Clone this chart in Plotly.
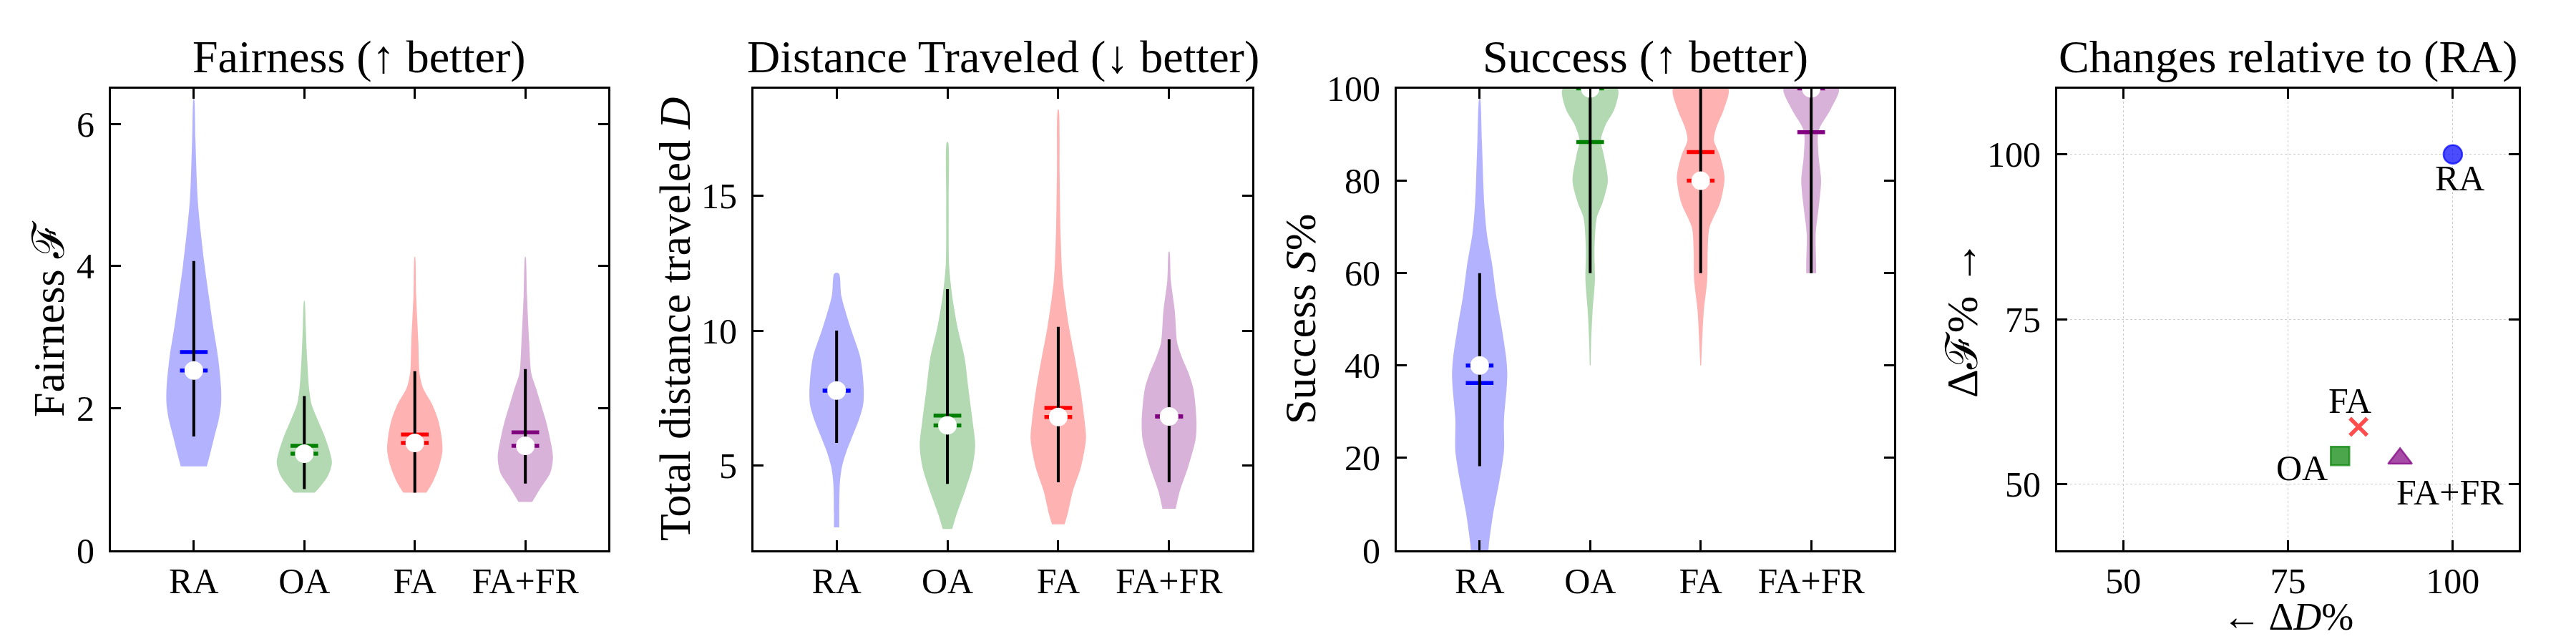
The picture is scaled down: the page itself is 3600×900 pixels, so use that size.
import plotly.graph_objects as go

# ---------------- data ----------------
METHODS = ["RA", "OA", "FA", "FA+FR"]
POSITIONS = [1, 2, 3, 4]
LINE_COLORS = ["blue", "green", "red", "purple"]
FILL_COLORS = ["rgba(0,0,255,0.3)", "rgba(0,128,0,0.3)", "rgba(255,0,0,0.3)", "rgba(128,0,128,0.3)"]

# Fairness violins: value levels and half-widths (category units)
FAIR_RA_Y = [1.18, 1.40, 1.62, 1.84, 2.06, 2.28, 2.71, 3.15, 3.59, 4.02, 4.9, 5.77, 6.36]
FAIR_RA_W = [0.118, 0.155, 0.19, 0.226, 0.247, 0.247, 0.22, 0.175, 0.135, 0.097, 0.037, 0.015, 0.002]
FAIR_OA_Y = [0.81, 0.92, 1.05, 1.23, 1.40, 1.62, 1.84, 2.06, 2.28, 2.71, 3.15, 3.51]
FAIR_OA_W = [0.095, 0.156, 0.215, 0.25, 0.228, 0.18, 0.12, 0.065, 0.043, 0.025, 0.013, 0.002]
FAIR_FA_Y = [0.81, 0.97, 1.18, 1.40, 1.62, 1.84, 2.06, 2.28, 2.49, 2.93, 3.59, 4.13]
FAIR_FA_W = [0.105, 0.166, 0.22, 0.25, 0.24, 0.21, 0.155, 0.075, 0.043, 0.032, 0.012, 0.002]
FAIR_FAFR_Y = [0.68, 0.88, 1.09, 1.31, 1.62, 1.84, 2.06, 2.28, 2.49, 2.93, 3.59, 4.13]
FAIR_FAFR_W = [0.062, 0.14, 0.226, 0.25, 0.217, 0.183, 0.14, 0.097, 0.054, 0.035, 0.015, 0.002]
FAIR_MEAN = [2.79, 1.47, 1.63, 1.66]
FAIR_MEDIAN = [2.53, 1.36, 1.51, 1.47]
FAIR_LO = [1.60, 0.86, 0.81, 0.94]
FAIR_HI = [4.07, 2.17, 2.52, 2.55]

# Distance violins
DIST_RA_Y = [2.71, 3.23, 4.38, 4.98, 5.53, 6.11, 6.68, 7.26, 7.83, 8.99, 10.14, 11.29, 12.12]
DIST_RA_W = [0.024, 0.024, 0.03, 0.05, 0.09, 0.145, 0.2, 0.24, 0.245, 0.215, 0.123, 0.043, 0.02]
DIST_OA_Y = [2.65, 3.23, 4.15, 4.95, 5.76, 6.68, 7.83, 8.99, 10.14, 11.29, 12.44, 14.75, 16.99]
DIST_OA_W = [0.043, 0.086, 0.166, 0.226, 0.25, 0.226, 0.19, 0.155, 0.09, 0.043, 0.015, 0.011, 0.005]
DIST_FA_Y = [2.82, 3.23, 4.03, 4.95, 5.99, 6.68, 7.83, 8.99, 10.14, 11.87, 13.59, 15.9, 18.2]
DIST_FA_W = [0.057, 0.086, 0.13, 0.205, 0.25, 0.237, 0.2, 0.15, 0.097, 0.04, 0.021, 0.012, 0.003]
DIST_FAFR_Y = [3.4, 4.03, 4.95, 5.99, 6.68, 7.83, 8.41, 8.99, 9.56, 10.71, 11.87, 12.93]
DIST_FAFR_W = [0.06, 0.095, 0.172, 0.24, 0.247, 0.22, 0.177, 0.118, 0.073, 0.052, 0.016, 0.003]
DIST_MEAN = [7.78, 6.85, 7.14, 6.82]
DIST_MEDIAN = [7.78, 6.49, 6.80, 6.82]
DIST_LO = [5.84, 4.32, 4.38, 4.38]
DIST_HI = [10.0, 11.54, 10.14, 9.68]

# Success violins
SUCC_RA_Y = [0, 1.35, 8.07, 14.8, 21.5, 28.2, 35.0, 38.3, 41.7, 48.4, 55.1, 61.9, 68.6, 75.3, 88.8, 97.8]
SUCC_RA_W = [0.08, 0.084, 0.123, 0.177, 0.22, 0.22, 0.244, 0.25, 0.24, 0.198, 0.15, 0.113, 0.065, 0.041, 0.02, 0.003]
SUCC_OA_Y = [40, 45.1, 51.8, 58.5, 65.2, 72.0, 75.3, 80, 85.4, 88.8, 92.1, 95.5, 100]
SUCC_OA_W = [0.004, 0.009, 0.022, 0.043, 0.039, 0.06, 0.113, 0.16, 0.125, 0.097, 0.14, 0.22, 0.247]
SUCC_FA_Y = [40, 45.1, 51.8, 58.5, 65.2, 69.9, 75.3, 80.7, 85.4, 88.8, 91.5, 95.5, 100]
SUCC_FA_W = [0.004, 0.013, 0.028, 0.059, 0.064, 0.08, 0.177, 0.216, 0.175, 0.12, 0.142, 0.21, 0.248]
SUCC_FAFR_Y = [60, 61.9, 68.6, 74.0, 80, 85.4, 90.8, 95.5, 100]
SUCC_FAFR_W = [0.045, 0.045, 0.041, 0.067, 0.09, 0.067, 0.067, 0.177, 0.248]
SUCC_MEAN = [36.2, 88.4, 86.2, 90.5]
SUCC_MEDIAN = [40, 100, 80, 100]
SUCC_LO = [18.2, 60, 60, 60]
SUCC_HI = [60, 100, 100, 100]

# Relative changes (scatter)
DELTA_D = [100, 82.9, 85.7, 92.0]
DELTA_F = [100, 54.3, 58.7, 53.9]
SCATTER_SYMBOLS = ["circle", "square", "x-thin", "triangle-up"]
SCATTER_RGBA = ["rgba(0,0,255,0.7)", "rgba(0,128,0,0.7)", "rgba(255,0,0,0.7)", "rgba(128,0,128,0.7)"]
LABEL_SHIFT_X = [10, -53, -12, 70]
LABEL_SHIFT_Y = [-33, -17, 37, -47]

# ---------------- layout helpers ----------------
W, H = 3600, 900
OFF = 8  # the page body margin shifts the figure by this many px
FONT = "Liberation Serif"
TITLE_SIZE = 64
LABEL_SIZE = 62
XLABEL_SIZE = 54
TICK_SIZE = 50

PX = [(155, 850), (1053, 1750), (1952, 2647), (2875, 3520)]
PY = (123.5, 769)


def fx(px):
    return (px - OFF) / W


def fy(py):
    return 1 - (py - OFF) / H


def xd(p):
    return [fx(p[0]), fx(p[1])]


ydom = [fy(PY[1]), fy(PY[0])]

fig = go.Figure()

panels = [
    ("x", "y", [(FAIR_RA_Y, FAIR_RA_W), (FAIR_OA_Y, FAIR_OA_W), (FAIR_FA_Y, FAIR_FA_W), (FAIR_FAFR_Y, FAIR_FAFR_W)],
     FAIR_MEAN, FAIR_MEDIAN, FAIR_LO, FAIR_HI),
    ("x2", "y2", [(DIST_RA_Y, DIST_RA_W), (DIST_OA_Y, DIST_OA_W), (DIST_FA_Y, DIST_FA_W), (DIST_FAFR_Y, DIST_FAFR_W)],
     DIST_MEAN, DIST_MEDIAN, DIST_LO, DIST_HI),
    ("x3", "y3", [(SUCC_RA_Y, SUCC_RA_W), (SUCC_OA_Y, SUCC_OA_W), (SUCC_FA_Y, SUCC_FA_W), (SUCC_FAFR_Y, SUCC_FAFR_W)],
     SUCC_MEAN, SUCC_MEDIAN, SUCC_LO, SUCC_HI),
]

HALF_LINE = 0.125
for xa, ya, profiles, means, medians, los, his in panels:
    for i, (ys, ws) in enumerate(profiles):
        c = POSITIONS[i]
        px = [c + w for w in ws] + [c - w for w in reversed(ws)]
        py = list(ys) + list(reversed(ys))
        fig.add_trace(go.Scatter(x=px, y=py, xaxis=xa, yaxis=ya, mode="lines", fill="toself",
                                 fillcolor=FILL_COLORS[i], line=dict(width=0, color="rgba(0,0,0,0)", shape="spline", smoothing=0.8),
                                 hoverinfo="skip", showlegend=False))
    for i in range(4):
        c = POSITIONS[i]
        for val in (means[i], medians[i]):
            fig.add_trace(go.Scatter(x=[c - HALF_LINE, c + HALF_LINE], y=[val, val], xaxis=xa, yaxis=ya,
                                     mode="lines", line=dict(color=LINE_COLORS[i], width=5.5),
                                     hoverinfo="skip", showlegend=False, cliponaxis=False))
        fig.add_trace(go.Scatter(x=[c, c], y=[los[i], his[i]], xaxis=xa, yaxis=ya, mode="lines",
                                 line=dict(color="black", width=4), hoverinfo="skip", showlegend=False))
    fig.add_trace(go.Scatter(x=POSITIONS, y=medians, xaxis=xa, yaxis=ya, mode="markers",
                             marker=dict(color="white", size=26, line=dict(width=0)),
                             hoverinfo="skip", showlegend=False))

# scatter panel
for i in range(4):
    sym = SCATTER_SYMBOLS[i]
    if sym == "x-thin":
        mk = dict(symbol=sym, size=24, color=SCATTER_RGBA[i], line=dict(color=SCATTER_RGBA[i], width=5.5))
    else:
        size = 26 if sym in ("circle", "square") else 29
        mk = dict(symbol=sym, size=size, color=SCATTER_RGBA[i], line=dict(color=SCATTER_RGBA[i], width=2.5))
    fig.add_trace(go.Scatter(x=[DELTA_D[i]], y=[DELTA_F[i]], xaxis="x4", yaxis="y4", mode="markers",
                             marker=mk, hoverinfo="skip", showlegend=False))
    fig.add_annotation(x=DELTA_D[i], y=DELTA_F[i], xref="x4", yref="y4", text=METHODS[i], showarrow=False,
                       xshift=LABEL_SHIFT_X[i], yshift=LABEL_SHIFT_Y[i],
                       font=dict(family=FONT, size=TICK_SIZE, color="black"))

axis_common = dict(showline=True, linecolor="black", linewidth=3, mirror="ticks", ticks="inside",
                   ticklen=14, tickwidth=3, tickcolor="black", showgrid=False, zeroline=False,
                   automargin=False,
                   tickfont=dict(family=FONT, size=TICK_SIZE, color="black"))

cat_x = dict(axis_common, range=[0.25, 4.75], tickvals=POSITIONS, ticktext=METHODS, ticklabelstandoff=-3)
YSTAND = 10

fig.update_layout(
    template="none",
    width=W, height=H, margin=dict(l=0, r=0, t=0, b=0, pad=0), autosize=False,
    plot_bgcolor="white", paper_bgcolor="white",
    xaxis=dict(cat_x, domain=xd(PX[0]), anchor="y"),
    yaxis=dict(axis_common, domain=ydom, anchor="x", range=[0, 6.5], tickvals=[0, 2, 4, 6], ticklabelstandoff=YSTAND),
    xaxis2=dict(cat_x, domain=xd(PX[1]), anchor="y2"),
    yaxis2=dict(axis_common, domain=ydom, anchor="x2", range=[1.86, 18.98], tickvals=[5, 10, 15], ticklabelstandoff=YSTAND),
    xaxis3=dict(cat_x, domain=xd(PX[2]), anchor="y3"),
    yaxis3=dict(axis_common, domain=ydom, anchor="x3", range=[0, 100], tickvals=[0, 20, 40, 60, 80, 100], ticklabelstandoff=YSTAND),
    xaxis4=dict(axis_common, domain=xd(PX[3]), anchor="y4", range=[40, 110], tickvals=[50, 75, 100],
                showgrid=True, gridcolor="#cccccc", gridwidth=1, griddash="dot", ticklabelstandoff=-3),
    yaxis4=dict(axis_common, domain=ydom, anchor="x4", range=[40, 110], tickvals=[50, 75, 100],
                showgrid=True, gridcolor="#cccccc", gridwidth=1, griddash="dot", ticklabelstandoff=YSTAND),
)

# titles
TITLES = ["Fairness (↑ better)", "Distance Traveled (↓ better)", "Success (↑ better)", "Changes relative to (RA)"]
for p, t in zip(PX, TITLES):
    fig.add_annotation(x=fx((p[0] + p[1]) / 2), y=fy(79), xref="paper", yref="paper", text=t,
                       showarrow=False, xanchor="center", yanchor="middle",
                       font=dict(family=FONT, size=TITLE_SIZE, color="black"))

# axis titles
YLABELS = ["Fairness ℱ", "Total distance traveled <i>D</i>", "Success <i>S</i>%", "Δℱ% →"]
YLABEL_X = [68, 943, 1817, 2742]
for xl, t in zip(YLABEL_X, YLABELS):
    fig.add_annotation(x=fx(xl), y=fy(446), xref="paper", yref="paper", text=t, textangle=-90,
                       showarrow=False, xanchor="center", yanchor="middle",
                       font=dict(family=FONT, size=LABEL_SIZE, color="black"))
fig.add_annotation(x=fx((PX[3][0] + PX[3][1]) / 2), y=fy(862), xref="paper", yref="paper",
                   text="← Δ<i>D</i>%", showarrow=False, xanchor="center", yanchor="middle",
                   font=dict(family=FONT, size=XLABEL_SIZE, color="black"))

fig.write_html("out.html")
